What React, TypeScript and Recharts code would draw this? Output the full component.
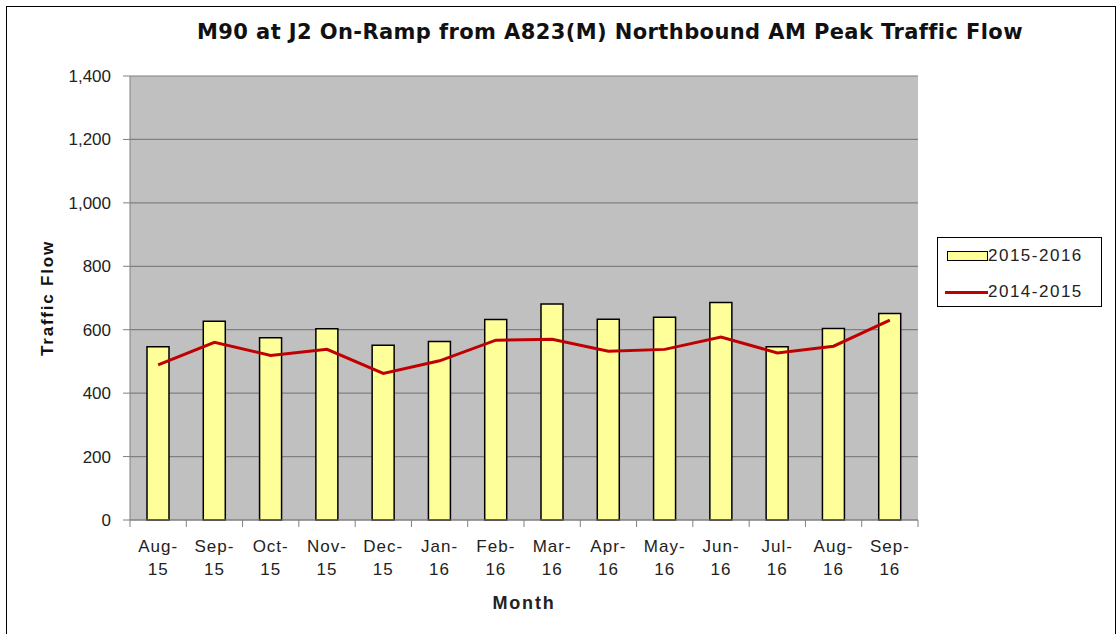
import React from "react";
import { ComposedChart, Bar, Line, XAxis, YAxis, CartesianGrid } from "recharts";

const months = ["Aug-15", "Sep-15", "Oct-15", "Nov-15", "Dec-15", "Jan-16", "Feb-16", "Mar-16", "Apr-16", "May-16", "Jun-16", "Jul-16", "Aug-16", "Sep-16"];
const flow1516 = [546, 627, 575, 603, 551, 563, 632, 681, 633, 639, 686, 546, 604, 651];
const flow1415 = [489, 560, 519, 538, 462, 502, 567, 570, 532, 538, 577, 527, 548, 630];
const yTicks = [0, 200, 400, 600, 800, 1000, 1200, 1400];

const W = 1117;
const H = 634;
const PLOT_LEFT = 130;
const PLOT_RIGHT = 918;
const STEP = (PLOT_RIGHT - PLOT_LEFT) / months.length;
const FONT = "'Liberation Sans', Arial, sans-serif";

const data = months.map((m, i) => ({ month: m, a: flow1516[i], b: flow1415[i] }));

// two-line month tick, with Excel-style tick marks between categories
const MonthTick = (props: any) => {
  const { x, y, payload, index } = props;
  const [mon, yr] = String(payload.value).split("-");
  return (
    <g>
      <line x1={x - STEP / 2} x2={x - STEP / 2} y1={y - 8} y2={y - 1} stroke="#808080" />
      {index === months.length - 1 ? (
        <line x1={x + STEP / 2} x2={x + STEP / 2} y1={y - 8} y2={y - 1} stroke="#808080" />
      ) : null}
      <text x={x} y={y + 24} textAnchor="middle" fontSize={17} letterSpacing={1} fill="#222" fontFamily={FONT}>
        {mon}-
      </text>
      <text x={x} y={y + 47} textAnchor="middle" fontSize={17} letterSpacing={1} fill="#222" fontFamily={FONT}>
        {yr}
      </text>
    </g>
  );
};

const legendText: React.CSSProperties = {
  position: "absolute",
  left: 50,
  fontFamily: FONT,
  fontSize: 17,
  letterSpacing: 1.5,
  color: "#222",
  lineHeight: "20px",
};

export default function App() {
  return (
    <div style={{ position: "absolute", left: 0, top: 0, width: W, height: H, background: "#fff", overflow: "hidden" }}>
      <div
        style={{
          position: "absolute",
          left: 6,
          top: 6,
          width: 1110,
          height: 640,
          border: "1px solid #000",
          boxSizing: "border-box",
        }}
      />
      <div
        style={{
          position: "absolute",
          left: 0,
          top: 20,
          width: 1220,
          textAlign: "center",
          fontFamily: "'DejaVu Sans', Verdana, sans-serif",
          fontWeight: 700,
          fontSize: 21,
          letterSpacing: 0.4,
          color: "#111",
        }}
      >
        M90 at J2 On-Ramp from A823(M) Northbound AM Peak Traffic Flow
      </div>
      <div style={{ position: "absolute", left: 0, top: 0 }}>
        <ComposedChart
          width={W}
          height={H}
          data={data}
          margin={{ top: 76, right: W - PLOT_RIGHT, bottom: 0, left: 70 }}
          barSize={22}
        >
          <CartesianGrid vertical={false} stroke="#808080" strokeWidth={1.2} fill="#C0C0C0" />
          <XAxis
            dataKey="month"
            tick={<MonthTick />}
            tickLine={false}
            axisLine={{ stroke: "#808080" }}
            interval={0}
            height={114}
            label={{ value: "Month", position: "insideTop", offset: 76, fontFamily: FONT, fontWeight: 700, fontSize: 18, letterSpacing: 1.8, fill: "#222" }}
          />
          <YAxis
            domain={[0, 1400]}
            ticks={yTicks}
            interval={0}
            width={60}
            axisLine={{ stroke: "#808080" }}
            tickLine={{ stroke: "#808080" }}
            tickSize={7}
            tickMargin={12}
            tickFormatter={(v: number) => v.toLocaleString("en-US")}
            tick={{ fontFamily: FONT, fontSize: 17, fill: "#222" }}
            label={{ value: "Traffic Flow", angle: -90, position: "insideLeft", offset: -23, fontFamily: FONT, fontWeight: 700, fontSize: 17, letterSpacing: 1.8, fill: "#111", style: { textAnchor: "middle" } }}
          />
          <Bar dataKey="a" name="2015-2016" fill="#FFFF99" stroke="#000" strokeWidth={1.5} isAnimationActive={false} />
          <Line dataKey="b" name="2014-2015" type="linear" stroke="#C00000" strokeWidth={3} dot={false} isAnimationActive={false} />
        </ComposedChart>
      </div>
      <div
        style={{
          position: "absolute",
          left: 937,
          top: 237,
          width: 165,
          height: 70,
          border: "1px solid #000",
          boxSizing: "border-box",
          background: "#fff",
        }}
      >
        <span style={{ position: "absolute", left: 9, top: 13, width: 39, height: 8, background: "#FFFF99", border: "1px solid #000" }} />
        <span style={{ ...legendText, top: 8 }}>2015-2016</span>
        <span style={{ position: "absolute", left: 7, top: 53, width: 43, height: 3, background: "#C00000" }} />
        <span style={{ ...legendText, top: 44 }}>2014-2015</span>
      </div>
    </div>
  );
}
